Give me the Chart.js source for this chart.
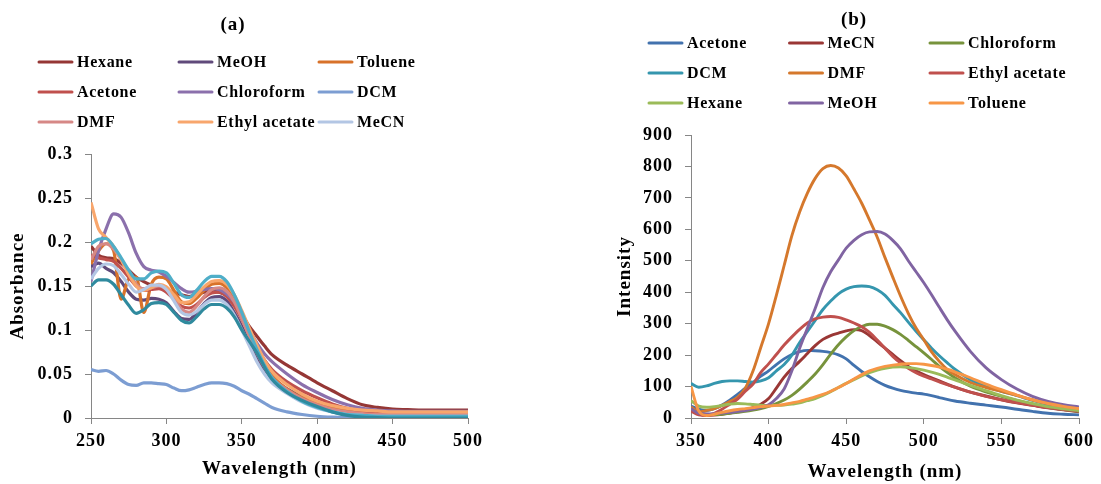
<!DOCTYPE html>
<html>
<head>
<meta charset="utf-8">
<title>Absorption and emission spectra</title>
<script src="https://cdn.jsdelivr.net/npm/chart.js@4.4.1/dist/chart.umd.min.js"></script>
<style>
  html, body { margin: 0; padding: 0; background: #fff; width: 1101px; height: 484px; overflow: hidden; }
  #wrapA { position: absolute; left: 0; top: 0; width: 550px; height: 484px; }
  #wrapB { position: absolute; left: 550px; top: 0; width: 551px; height: 484px; }
  canvas { display: block; }
</style>
</head>
<body>
<div id="wrapA"><canvas id="chartA" width="550" height="484"></canvas></div>
<div id="wrapB"><canvas id="chartB" width="551" height="484"></canvas></div>
<script>
// ---------- (a) UV-Vis absorbance ----------
const WL_A = [250,255,260,265,270,275,280,285,290,295,300,305,310,315,320,325,330,335,340,345,350,355,360,365,370,
              380,390,400,410,420,430,440,450,460,470,480,490,500];
const X_TICKS_A = ['250','300','350','400','450','500'];
const Y_TICKS_A = ['0','0.05','0.1','0.15','0.2','0.25','0.3'];

const ABS_HEXANE        = [.195,.185,.182,.181,.176,.168,.160,.155,.151,.149,.146,.143,.140,.138,.140,.143,.144,.143,.139,.130,.118,.104,.093,.082,.072,
                           .060,.050,.040,.031,.022,.015,.012,.010,.0095,.009,.009,.009,.009];
const ABS_MEOH          = [.172,.176,.170,.165,.155,.143,.135,.134,.136,.135,.131,.121,.113,.112,.120,.130,.137,.138,.133,.120,.104,.085,.068,.055,.045,
                           .033,.024,.017,.012,.009,.007,.006,.005,.005,.005,.005,.005,.005];
const ABS_TOLUENE       = [.175,.190,.198,.190,.135,.158,.160,.120,.152,.160,.158,.145,.132,.130,.136,.145,.152,.153,.148,.134,.115,.095,.076,.060,.048,
                           .033,.023,.016,.011,.008,.006,.005,.005,.005,.005,.005,.005,.005];
const ABS_ACETONE       = [.185,.182,.180,.178,.170,.160,.150,.145,.146,.147,.143,.135,.127,.125,.129,.137,.142,.143,.138,.127,.112,.095,.080,.066,.055,
                           .041,.031,.023,.016,.011,.008,.007,.006,.006,.006,.006,.006,.006];
const ABS_CHLOROFORM    = [.155,.190,.215,.232,.228,.210,.187,.172,.168,.166,.161,.154,.147,.143,.144,.146,.147,.146,.141,.132,.118,.100,.085,.073,.064,
                           .050,.038,.029,.021,.015,.011,.009,.008,.0075,.0075,.0075,.0075,.0075];
const ABS_DCM           = [.055,.053,.054,.050,.043,.038,.037,.040,.040,.039,.038,.034,.031,.032,.035,.038,.040,.040,.039,.036,.031,.027,.022,.017,.012,
                           .007,.004,.002,.001,.0005,.0003,.0002,.0002,.0002,.0002,.0002,.0002,.0002];
const ABS_DMF           = [.180,.195,.198,.192,.180,.165,.152,.147,.148,.150,.146,.136,.124,.120,.127,.138,.146,.148,.144,.132,.113,.093,.074,.058,.046,
                           .032,.022,.015,.010,.007,.005,.004,.004,.004,.004,.004,.004,.004];
const ABS_ETHYL_ACETATE = [.245,.215,.205,.195,.180,.163,.150,.145,.148,.152,.149,.140,.131,.132,.140,.149,.155,.156,.152,.140,.122,.102,.083,.066,.053,
                           .038,.027,.019,.014,.011,.009,.008,.007,.007,.007,.007,.007,.007];
const ABS_MECN          = [.158,.170,.175,.173,.163,.152,.143,.146,.151,.151,.146,.133,.120,.117,.121,.129,.134,.134,.129,.117,.100,.082,.064,.050,.040,
                           .028,.018,.011,.007,.004,.003,.002,.002,.002,.002,.002,.002,.002];
// two further recorded traces (plotted, not listed in the key)
const ABS_TRACE_10      = [.198,.203,.204,.195,.182,.168,.158,.158,.165,.167,.165,.153,.140,.137,.145,.155,.161,.161,.155,.140,.120,.098,.078,.060,.046,
                           .030,.019,.012,.007,.004,.003,.002,.002,.002,.002,.002,.002,.002];
const ABS_TRACE_11      = [.150,.157,.157,.152,.140,.128,.119,.123,.130,.131,.129,.120,.111,.108,.115,.124,.129,.129,.125,.115,.100,.087,.074,.058,.044,
                           .029,.020,.013,.007,.003,.001,.0005,0,0,0,0,0,0];

// ---------- (b) fluorescence intensity ----------
const WL_B = [350,355,360,365,370,375,380,385,390,395,400,405,410,415,420,425,430,435,440,445,
              450,455,460,465,470,475,480,485,490,495,500,505,510,515,520,530,540,550,560,570,580,590,600];
const X_TICKS_B = ['350','400','450','500','550','600'];
const Y_TICKS_B = ['0','100','200','300','400','500','600','700','800','900'];

const INT_ACETONE       = [38,28,24,30,41,57,75,95,113,133, 150,170,188,202,211,215,214,212,208,201,
                           188,167,148,131,116,104,95,88,83,79, 76,71,65,59,54, 47,41,35,28,21,15,12,10];
const INT_MECN          = [30,14,8,9,12,16,20,26,33,44, 62,95,130,157,180,205,230,250,262,270,
                           277,281,278,262,242,222,202,182,164,150, 138,128,118,108,98, 82,70,58,48,40,32,26,20];
const INT_CHLOROFORM    = [30,18,12,11,12,15,18,21,25,30, 37,46,57,72,92,115,140,170,203,233,
                           258,278,291,298,298,292,281,266,247,227, 207,186,164,145,128, 101,83,69,56,44,34,27,21];
const INT_DCM           = [110,98,102,110,116,118,118,116,114,118, 128,150,170,200,240,275,310,345,372,395,
                           410,418,420,418,408,390,362,335,305,276, 249,222,198,176,155, 122,100,85,71,56,43,33,26];
const INT_DMF           = [35,20,24,30,40,52,66,95,150,225, 300,390,485,580,655,715,762,793,803,795,
                           770,728,683,630,575,510,448,388,333,286, 249,210,180,155,138, 113,97,85,72,58,46,36,28];
const INT_ETHYL_ACETATE = [22,10,8,15,28,44,60,85,108,145, 172,202,232,258,282,302,315,321,323,320,
                           312,302,290,272,248,222,196,175,158,144, 133,124,115,106,98, 82,69,58,49,41,33,27,22];
const INT_HEXANE        = [55,38,34,36,40,44,46,45,43,41, 40,40,41,44,48,55,62,72,84,97,
                           110,122,134,144,152,158,162,163,161,157, 152,146,139,130,121, 104,87,71,57,46,36,29,23];
const INT_MEOH          = [30,15,13,14,16,18,21,24,28,34, 42,62,92,150,222,285,348,415,465,503,
                           540,565,583,592,593,585,565,538,500,465, 430,392,352,313,277, 212,160,122,92,69,53,42,35];
const INT_TOLUENE       = [100,22,8,12,18,23,27,30,33,36, 38,40,43,48,53,60,67,75,85,97,
                           110,124,138,150,158,164,168,171,173,173, 171,167,162,155,147, 128,108,90,73,58,46,37,30];

const FONT = "'Liberation Serif', 'Times New Roman', serif";

const SERIES_A = [
  { name: 'Hexane',        values: ABS_HEXANE,        color: '#953735' },
  { name: 'MeOH',          values: ABS_MEOH,          color: '#604A7B' },
  { name: 'Toluene',       values: ABS_TOLUENE,       color: '#D8722A' },
  { name: 'Acetone',       values: ABS_ACETONE,       color: '#C0504D' },
  { name: 'Chloroform',    values: ABS_CHLOROFORM,    color: '#8B70AC' },
  { name: 'DCM',           values: ABS_DCM,           color: '#7C9DD2' },
  { name: 'DMF',           values: ABS_DMF,           color: '#D68886' },
  { name: 'Ethyl acetate', values: ABS_ETHYL_ACETATE, color: '#F8A66C' },
  { name: 'MeCN',          values: ABS_MECN,          color: '#B3C6E4' },
  { name: 'Trace 10',      values: ABS_TRACE_10,      color: '#4FAEC8', hidden: true },
  { name: 'Trace 11',      values: ABS_TRACE_11,      color: '#2F8A9E', hidden: true }
];

const SERIES_B = [
  { name: 'Acetone',       values: INT_ACETONE,       color: '#4272AE' },
  { name: 'MeCN',          values: INT_MECN,          color: '#9A3735' },
  { name: 'Chloroform',    values: INT_CHLOROFORM,    color: '#77933C' },
  { name: 'DCM',           values: INT_DCM,           color: '#3596AE' },
  { name: 'DMF',           values: INT_DMF,           color: '#D5782C' },
  { name: 'Ethyl acetate', values: INT_ETHYL_ACETATE, color: '#C0504D' },
  { name: 'Hexane',        values: INT_HEXANE,        color: '#9BBB59' },
  { name: 'MeOH',          values: INT_MEOH,          color: '#8064A2' },
  { name: 'Toluene',       values: INT_TOLUENE,       color: '#F79646' }
];

function buildDatasets(wl, list, width) {
  return list.map((s, i) => ({
    label: s.name,
    data: s.values.map((v, k) => ({ x: wl[k], y: v })),
    borderColor: s.color,
    backgroundColor: s.color,
    borderWidth: width,
    pointRadius: 0,
    pointHoverRadius: 0,
    fill: false,
    cubicInterpolationMode: 'monotone',
    order: -i,               // later series drawn on top
    hideInLegend: !!s.hidden
  }));
}

// Panel title, axis titles and a three-column key drawn onto the canvas.
const panelText = {
  id: 'panelText',
  beforeLayout(chart) { chart.ctx.letterSpacing = '1px'; },
  beforeDraw(chart) { chart.ctx.letterSpacing = '1px'; },
  afterDraw(chart, args, o) {
    const ctx = chart.ctx;
    const a = chart.chartArea;
    ctx.save();
    ctx.fillStyle = '#000';
    ctx.textBaseline = 'middle';

    ctx.font = 'bold 19px ' + FONT;
    ctx.letterSpacing = '1px';
    ctx.textAlign = 'center';
    ctx.fillText(o.title, o.titleX, o.titleY);
    ctx.fillText(o.xTitle, (a.left + a.right) / 2, o.xTitleY);

    ctx.save();
    ctx.translate(o.yTitleX, (a.top + a.bottom) / 2);
    ctx.rotate(-Math.PI / 2);
    ctx.fillText(o.yTitle, 0, 0);
    ctx.restore();

    ctx.font = 'bold 16px ' + FONT;
    ctx.letterSpacing = '0.7px';
    ctx.textAlign = 'left';
    ctx.lineWidth = 3;
    ctx.lineCap = 'round';
    let k = 0;
    chart.data.datasets.forEach(ds => {
      if (ds.hideInLegend) return;
      const col = k % 3, row = Math.floor(k / 3);
      const x = o.keyX + col * o.keyColW;
      const y = o.keyY + row * o.keyRowH;
      ctx.strokeStyle = ds.borderColor;
      ctx.beginPath();
      ctx.moveTo(x + 1, y);
      ctx.lineTo(x + 34, y);
      ctx.stroke();
      ctx.fillText(ds.label, x + 39, y + 1);
      k++;
    });
    ctx.restore();
  }
};

function axisStyle(extra) {
  return Object.assign({
    type: 'linear',
    grid: { drawOnChartArea: false, drawTicks: true, tickLength: 6, color: '#868686', lineWidth: 1 },
    border: { display: true, color: '#868686', width: 1 }
  }, extra);
}

function tickFont() { return { family: FONT, size: 18, weight: 'bold' }; }

function makeChart(canvasId, wl, series, cfg) {
  return new Chart(document.getElementById(canvasId), {
    type: 'line',
    data: { datasets: buildDatasets(wl, series, cfg.lineWidth) },
    plugins: [panelText],
    options: {
      responsive: false,
      animation: false,
      events: [],
      devicePixelRatio: 1,
      layout: { padding: cfg.padding },
      plugins: {
        legend: { display: false },
        title: { display: false },
        tooltip: { enabled: false },
        panelText: cfg.text
      },
      scales: {
        x: axisStyle({
          min: cfg.xMin, max: cfg.xMax,
          ticks: { stepSize: 50, autoSkip: false, maxRotation: 0, color: '#000', padding: 7,
                   font: tickFont(), callback: (v, i) => cfg.xTicks[i] },
          afterFit: s => { s.height = 66; }
        }),
        y: axisStyle({
          min: 0, max: cfg.yMax,
          ticks: { stepSize: cfg.yStep, autoSkip: false, color: '#000', padding: 12,
                   font: tickFont(), callback: (v, i) => cfg.yTicks[i] },
          afterFit: s => { s.width = cfg.yWidth; }
        })
      }
    }
  });
}

makeChart('chartA', WL_A, SERIES_A, {
  xMin: 250, xMax: 500, yMax: 0.3, yStep: 0.05,
  xTicks: X_TICKS_A, yTicks: Y_TICKS_A,
  yWidth: 91, lineWidth: 3.2,
  padding: { left: 0, top: 154, right: 82, bottom: 0 },
  text: { title: '(a)', titleX: 233, titleY: 25,
          xTitle: 'Wavelength (nm)', xTitleY: 469,
          yTitle: 'Absorbance', yTitleX: 18,
          keyX: 38, keyY: 62, keyColW: 140, keyRowH: 30 }
});

makeChart('chartB', WL_B, SERIES_B, {
  xMin: 350, xMax: 600, yMax: 900, yStep: 100,
  xTicks: X_TICKS_B, yTicks: Y_TICKS_B,
  yWidth: 141, lineWidth: 2.9,
  padding: { left: 0, top: 135, right: 18, bottom: 0 },
  text: { title: '(b)', titleX: 304, titleY: 20,
          xTitle: 'Wavelength (nm)', xTitleY: 472,
          yTitle: 'Intensity', yTitleX: 75,
          keyX: 98, keyY: 43, keyColW: 140.5, keyRowH: 30 }
});
</script>
</body>
</html>
